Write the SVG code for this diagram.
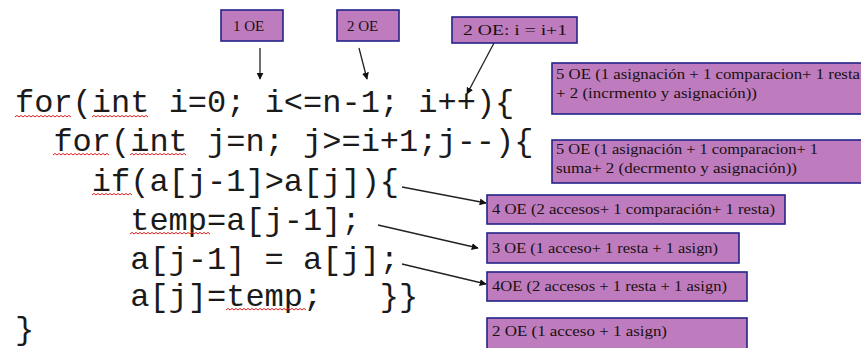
<svg xmlns="http://www.w3.org/2000/svg" width="861" height="348" viewBox="0 0 861 348">
  <style>
    .code { font-family: "Liberation Mono", "Courier New", monospace; font-size: 32px; fill: #1a1a1a; white-space: pre; }
    .box { fill: #BE7CBE; stroke: #24248a; stroke-width: 1.6; }
    .lbl { font-family: "Liberation Serif", "Times New Roman", serif; font-size: 15px; fill: #1a1010; }
    .wavy { fill: none; stroke: #e02020; stroke-width: 1; }
    .link { fill: none; stroke: #222; stroke-width: 1.3; marker-end: url(#head); }
  </style>
  <defs>
    <marker id="head" viewBox="0 0 10 10" refX="9" refY="5" markerWidth="7" markerHeight="7" markerUnits="userSpaceOnUse" orient="auto">
      <path d="M0 0 L10 5 L0 10 Z" fill="#111"/>
    </marker>
  </defs>
  <rect width="861" height="348" fill="#fff"/>

  <!-- source code -->
  <g id="code">
    <text class="code" x="15" y="112">for(int i=0; i&lt;=n-1; i++){</text>
    <text class="code" x="53.4" y="151">for(int j=n; j&gt;=i+1;j--){</text>
    <text class="code" x="91.8" y="191">if(a[j-1]&gt;a[j]){</text>
    <text class="code" x="130.2" y="230">temp=a[j-1];</text>
    <text class="code" x="130.2" y="269">a[j-1] = a[j];</text>
    <text class="code" x="130.2" y="306" xml:space="preserve">a[j]=temp;   }}</text>
    <text class="code" x="15" y="339">}</text>
  </g>

  <!-- spell-check squiggles -->
  <g id="squiggles">
    <path class="wavy" d="M15 117 l2-1.6 l2 1.6 l2-1.6 l2 1.6 l2-1.6 l2 1.6 l2-1.6 l2 1.6 l2-1.6 l2 1.6 l2-1.6 l2 1.6 l2-1.6 l2 1.6 l2-1.6 l2 1.6 l2-1.6 l2 1.6 l2-1.6 l2 1.6 l2-1.6 l2 1.6 l2-1.6 l2 1.6 l2-1.6 l2 1.6 l2-1.6 l2 1.6"/>
    <path class="wavy" d="M92 117 l2-1.6 l2 1.6 l2-1.6 l2 1.6 l2-1.6 l2 1.6 l2-1.6 l2 1.6 l2-1.6 l2 1.6 l2-1.6 l2 1.6 l2-1.6 l2 1.6 l2-1.6 l2 1.6 l2-1.6 l2 1.6 l2-1.6 l2 1.6 l2-1.6 l2 1.6 l2-1.6 l2 1.6 l2-1.6 l2 1.6 l2-1.6 l2 1.6"/>
    <path class="wavy" d="M53 155 l2-1.6 l2 1.6 l2-1.6 l2 1.6 l2-1.6 l2 1.6 l2-1.6 l2 1.6 l2-1.6 l2 1.6 l2-1.6 l2 1.6 l2-1.6 l2 1.6 l2-1.6 l2 1.6 l2-1.6 l2 1.6 l2-1.6 l2 1.6 l2-1.6 l2 1.6 l2-1.6 l2 1.6 l2-1.6 l2 1.6 l2-1.6 l2 1.6"/>
    <path class="wavy" d="M130 155 l2-1.6 l2 1.6 l2-1.6 l2 1.6 l2-1.6 l2 1.6 l2-1.6 l2 1.6 l2-1.6 l2 1.6 l2-1.6 l2 1.6 l2-1.6 l2 1.6 l2-1.6 l2 1.6 l2-1.6 l2 1.6 l2-1.6 l2 1.6 l2-1.6 l2 1.6 l2-1.6 l2 1.6 l2-1.6 l2 1.6 l2-1.6 l2 1.6"/>
    <path class="wavy" d="M92 195 l2-1.6 l2 1.6 l2-1.6 l2 1.6 l2-1.6 l2 1.6 l2-1.6 l2 1.6 l2-1.6 l2 1.6 l2-1.6 l2 1.6 l2-1.6 l2 1.6 l2-1.6 l2 1.6 l2-1.6 l2 1.6 l2-1.6 l2 1.6"/>
    <path class="wavy" d="M130 234 l2-1.6 l2 1.6 l2-1.6 l2 1.6 l2-1.6 l2 1.6 l2-1.6 l2 1.6 l2-1.6 l2 1.6 l2-1.6 l2 1.6 l2-1.6 l2 1.6 l2-1.6 l2 1.6 l2-1.6 l2 1.6 l2-1.6 l2 1.6 l2-1.6 l2 1.6 l2-1.6 l2 1.6 l2-1.6 l2 1.6 l2-1.6 l2 1.6 l2-1.6 l2 1.6 l2-1.6 l2 1.6 l2-1.6 l2 1.6 l2-1.6 l2 1.6 l2-1.6 l2 1.6 l2-1.6 l2 1.6"/>
    <path class="wavy" d="M226 310 l2-1.6 l2 1.6 l2-1.6 l2 1.6 l2-1.6 l2 1.6 l2-1.6 l2 1.6 l2-1.6 l2 1.6 l2-1.6 l2 1.6 l2-1.6 l2 1.6 l2-1.6 l2 1.6 l2-1.6 l2 1.6 l2-1.6 l2 1.6 l2-1.6 l2 1.6 l2-1.6 l2 1.6 l2-1.6 l2 1.6 l2-1.6 l2 1.6 l2-1.6 l2 1.6 l2-1.6 l2 1.6 l2-1.6 l2 1.6 l2-1.6 l2 1.6 l2-1.6 l2 1.6 l2-1.6 l2 1.6"/>
  </g>

  <!-- cost annotations -->
  <g id="oe-init">
    <rect class="box" x="221" y="10" width="62" height="31"/>
    <text class="lbl" x="233" y="31">1 OE</text>
  </g>
  <g id="oe-cond">
    <rect class="box" x="337" y="10" width="62" height="31"/>
    <text class="lbl" x="347" y="31">2 OE</text>
  </g>
  <g id="oe-incr">
    <rect class="box" x="452" y="17" width="125" height="26"/>
    <text class="lbl" x="463" y="35" textLength="104" lengthAdjust="spacingAndGlyphs">2 OE: i = i+1</text>
  </g>
  <g id="oe-outer-loop">
    <rect class="box" x="552" y="63" width="320" height="51"/>
    <text class="lbl" x="556" y="79" textLength="304" lengthAdjust="spacingAndGlyphs">5 OE (1 asignación  + 1 comparacion+ 1 resta</text>
    <text class="lbl" x="556" y="98" textLength="201" lengthAdjust="spacingAndGlyphs">+ 2 (incrmento y asignación))</text>
  </g>
  <g id="oe-inner-loop">
    <rect class="box" x="552" y="140" width="320" height="43"/>
    <text class="lbl" x="556" y="154" textLength="262" lengthAdjust="spacingAndGlyphs">5 OE (1 asignación  + 1 comparacion+ 1</text>
    <text class="lbl" x="556" y="173" textLength="241" lengthAdjust="spacingAndGlyphs">suma+ 2 (decrmento y asignación))</text>
  </g>
  <g id="oe-if">
    <rect class="box" x="487" y="195" width="298" height="29"/>
    <text class="lbl" x="492" y="214" textLength="283" lengthAdjust="spacingAndGlyphs">4 OE (2 accesos+ 1 comparación+ 1 resta)</text>
  </g>
  <g id="oe-temp">
    <rect class="box" x="487" y="233" width="252" height="30"/>
    <text class="lbl" x="492" y="253" textLength="226" lengthAdjust="spacingAndGlyphs">3 OE (1 acceso+ 1 resta + 1 asign)</text>
  </g>
  <g id="oe-swap">
    <rect class="box" x="487" y="272" width="260" height="29"/>
    <text class="lbl" x="492" y="291" textLength="235" lengthAdjust="spacingAndGlyphs">4OE (2 accesos + 1 resta + 1 asign)</text>
  </g>
  <g id="oe-store">
    <rect class="box" x="487" y="318" width="260" height="32"/>
    <text class="lbl" x="492" y="336" textLength="175" lengthAdjust="spacingAndGlyphs">2 OE (1 acceso  + 1 asign)</text>
  </g>

  <!-- connectors -->
  <g id="connectors">
    <line class="link" x1="260" y1="48" x2="260" y2="79"/>
    <line class="link" x1="359" y1="48" x2="367" y2="79"/>
    <line class="link" x1="494" y1="43" x2="467" y2="94"/>
    <line class="link" x1="402" y1="187" x2="486" y2="203"/>
    <line class="link" x1="378" y1="225" x2="478" y2="248"/>
    <line class="link" x1="402" y1="264" x2="486" y2="284"/>
  </g>
</svg>
